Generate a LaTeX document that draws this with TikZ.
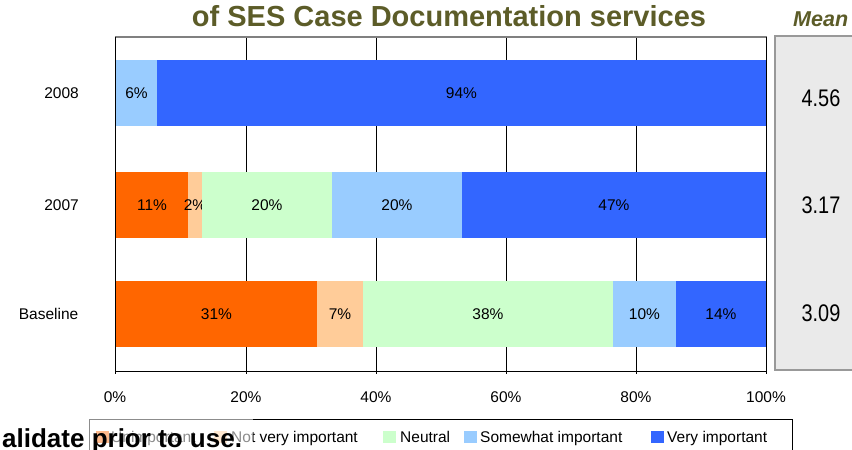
\documentclass[tikz,border=0pt]{standalone}
\usepackage{fontspec}
\setmainfont{Liberation Sans}
\usepackage{graphicx}
\definecolor{cOrange}{HTML}{FF6600}
\definecolor{cPeach}{HTML}{FFCC99}
\definecolor{cGreen}{HTML}{CCFFCC}
\definecolor{cLblue}{HTML}{99CCFF}
\definecolor{cBlue}{HTML}{3366FF}
\definecolor{cOlive}{HTML}{5C5C28}
\definecolor{cBoxfill}{HTML}{EAEAEA}
\definecolor{cBoxline}{HTML}{999999}
\tikzset{
  lbl/.style={font=\fontsize{15.5}{18}\selectfont, inner sep=0pt},
  catlbl/.style={font=\fontsize{15.5}{18}\selectfont, inner sep=0pt, anchor=east},
  meanlbl/.style={font=\fontsize{24}{28}\selectfont, inner sep=0pt, anchor=base},
  grid/.style={black, line width=0.8pt},
  swatch/.style={minimum width=13pt, minimum height=12pt, inner sep=0pt, anchor=west},
}
\newcommand\barseg[6]{% name, x1, x2, ytop, color, label
  \fill[#5] (#2,#4) rectangle (#3,#4+66);
  \node[lbl] (#1) at ({(#2+#3)/2},#4+33) {#6};
}
\begin{document}
\begin{tikzpicture}[x=1pt,y=-1pt]
\useasboundingbox (0,0) rectangle (852,450);
\fill[white] (0,0) rectangle (852,450);
% title
\node[font=\bfseries\fontsize{29}{34}\selectfont, text=cOlive, inner sep=0pt, anchor=base] (title) at (449,26) {of SES Case Documentation services};
\node[font=\bfseries\itshape\fontsize{21.5}{26}\selectfont, text=cOlive, inner sep=0pt, anchor=base west] (meanhead) at (793,26) {Mean};
% mean box
\draw[cBoxline, line width=2.5pt, fill=cBoxfill] (775,36) rectangle (862,370);
\node[meanlbl] (m1) at (821,106) {\scalebox{0.83}[1]{4.56}};
\node[meanlbl] (m2) at (821,213) {\scalebox{0.83}[1]{3.17}};
\node[meanlbl] (m3) at (821,321) {\scalebox{0.83}[1]{3.09}};
% grid
\foreach \gx in {246,376,506,636,766} {\draw[grid] (\gx,37) -- (\gx,374);}
\draw[grid] (115.5,37) -- (115.5,374);
\draw[grid] (115.5,371) -- (766,371);
\draw[gray, line width=2pt] (115,37) -- (767,37);
% bars 2008
\barseg{a1}{116}{157}{60}{cLblue}{6\%}
\barseg{a2}{157}{766}{60}{cBlue}{94\%}
% bars 2007
\barseg{b1}{116}{188}{172}{cOrange}{11\%}
\barseg{b2}{188}{202}{172}{cPeach}{2\%}
\barseg{b3}{202}{332}{172}{cGreen}{20\%}
\barseg{b4}{332}{462}{172}{cLblue}{20\%}
\barseg{b5}{462}{766}{172}{cBlue}{47\%}
% bars baseline
\barseg{c1}{116}{317}{281}{cOrange}{31\%}
\barseg{c2}{317}{363}{281}{cPeach}{7\%}
\barseg{c3}{363}{613}{281}{cGreen}{38\%}
\barseg{c4}{613}{676}{281}{cLblue}{10\%}
\barseg{c5}{676}{766}{281}{cBlue}{14\%}
\draw[grid] (766,37) -- (766,374);
\draw[grid] (115.5,37) -- (115.5,374);
% category labels
\node[catlbl] (y1) at (79,93) {2008};
\node[catlbl] (y2) at (79,205) {2007};
\node[catlbl] (y3) at (78.5,314) {Baseline};
% axis labels
\node[lbl] (x0) at (115,397) {0\%};
\node[lbl] (x1) at (246,397) {20\%};
\node[lbl] (x2) at (376,397) {40\%};
\node[lbl] (x3) at (506,397) {60\%};
\node[lbl] (x4) at (636,397) {80\%};
\node[lbl] (x5) at (766,397) {100\%};
% legend
\draw[black, line width=0.8pt] (89,452) -- (89,419) -- (792,419) -- (792,452);
\node[swatch, fill=cOrange] (s1) at (96,437) {};
\node[lbl, anchor=base west] (t1) at (111,442) {Unimportant};
\node[swatch, fill=cPeach] (s2) at (214,437) {};
\node[lbl, anchor=base west] (t2) at (231,442) {Not very important};
\node[swatch, fill=cGreen] (s3) at (383,437) {};
\node[lbl, anchor=base west] (t3) at (400,442) {Neutral};
\node[swatch, fill=cLblue] (s4) at (464,437) {};
\node[lbl, anchor=base west] (t4) at (480,442) {Somewhat important};
\node[swatch, fill=cBlue] (s5) at (651,437) {};
\node[lbl, anchor=base west] (t5) at (667,442) {Very important};
% overlay text
\fill[white, opacity=0.55] (0,414) rectangle (253,450);
\node[font=\bfseries\fontsize{26}{30}\selectfont, inner sep=0pt, anchor=base west] (note) at (2,447) {alidate prior to use.};
\end{tikzpicture}
\end{document}
